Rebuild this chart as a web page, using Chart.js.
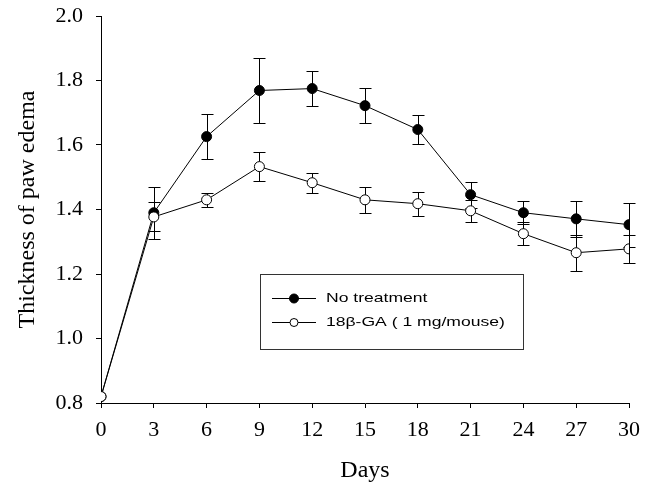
<!DOCTYPE html>
<html>
  <head>
    <meta charset="UTF-8" />
    <title>Thickness of paw edema</title>
    <style>
      body {
        margin: 0;
        background: #fff;
      }
      #wrap {
        width: 659px;
        height: 489px;
      }
    </style>
  </head>
  <body>
    <div id="wrap"><canvas id="chart" width="659" height="489"></canvas></div>

    <script src="https://cdn.jsdelivr.net/npm/chart.js"></script>
    <script>
      // values
      const days = [0, 3, 6, 9, 12, 15, 18, 21, 24, 27, 30];
      const noTreatment = [0.82, 1.39, 1.626, 1.769, 1.775, 1.722, 1.648, 1.446, 1.39, 1.371, 1.353];
      const noTreatmentErr = [0, 0.08, 0.07, 0.1, 0.053, 0.055, 0.046, 0.04, 0.035, 0.056, 0.068];
      const ga = [0.82, 1.377, 1.43, 1.533, 1.483, 1.43, 1.418, 1.396, 1.325, 1.266, 1.278];
      const gaErr = [0, 0.045, 0.022, 0.046, 0.031, 0.04, 0.037, 0.035, 0.035, 0.056, 0.043];
      const yTicks = [0.8, 1.0, 1.2, 1.4, 1.6, 1.8, 2.0];

      const serif = "'Liberation Serif', 'Times New Roman', serif";
      const sans = "'Liberation Sans', Arial, sans-serif";

      const toPoints = (vals) => days.map((d, i) => ({ x: d, y: vals[i] }));

      // vertical error bars with caps
      const errorBars = {
        id: "errorBars",
        beforeDatasetsDraw(chart) {
          const { ctx, scales } = chart;
          ctx.save();
          ctx.strokeStyle = "#000";
          ctx.lineWidth = 1;
          chart.data.datasets.forEach((ds) => {
            ds.data.forEach((p, i) => {
              const e = ds.errors[i];
              if (!e) return;
              const x = Math.round(scales.x.getPixelForValue(p.x)) + 0.5;
              const y1 = Math.round(scales.y.getPixelForValue(p.y + e)) + 0.5;
              const y2 = Math.round(scales.y.getPixelForValue(p.y - e)) + 0.5;
              ctx.beginPath();
              ctx.moveTo(x, y1);
              ctx.lineTo(x, y2);
              ctx.moveTo(x - 6, y1);
              ctx.lineTo(x + 6, y1);
              ctx.moveTo(x - 6, y2);
              ctx.lineTo(x + 6, y2);
              ctx.stroke();
            });
          });
          ctx.restore();
        },
      };

      // boxed legend inside the plot
      const boxLegend = {
        id: "boxLegend",
        afterDraw(chart) {
          const { ctx } = chart;
          const bx = 260, by = 274, bw = 263, bh = 75;
          ctx.save();
          ctx.strokeStyle = "#333";
          ctx.lineWidth = 1;
          ctx.strokeRect(bx + 0.5, by + 0.5, bw, bh);
          ctx.textBaseline = "middle";
          chart.data.datasets.forEach((ds, i) => {
            const y = by + 24.5 + i * 24;
            ctx.strokeStyle = "#000";
            ctx.beginPath();
            ctx.moveTo(272, y);
            ctx.lineTo(316, y);
            ctx.stroke();
            ctx.beginPath();
            ctx.arc(294, y, i === 0 ? 4.5 : 4, 0, Math.PI * 2);
            ctx.fillStyle = ds.pointBackgroundColor;
            ctx.fill();
            ctx.stroke();
            // scanned figure text is a bit wide, so stretch it sideways
            ctx.save();
            ctx.translate(326, y);
            ctx.scale(1.3, 1);
            ctx.font = "13.5px " + sans;
            ctx.fillStyle = "#000";
            ctx.fillText(ds.label, 0, 0);
            ctx.restore();
          });
          ctx.restore();
        },
      };

      const ctx = document.getElementById("chart").getContext("2d");

      const config = {
        type: "line",
        data: {
          datasets: [
            {
              label: "No treatment",
              data: toPoints(noTreatment),
              errors: noTreatmentErr,
              order: 1,
              borderColor: "#000",
              borderWidth: 1,
              pointRadius: 5,
              pointBackgroundColor: "#000",
              pointBorderColor: "#000",
              pointBorderWidth: 1,
              tension: 0,
            },
            {
              label: "18\u03b2-GA ( 1 mg/mouse)",
              data: toPoints(ga),
              errors: gaErr,
              order: 0,
              borderColor: "#000",
              borderWidth: 1,
              pointRadius: 5,
              pointBackgroundColor: "#fff",
              pointBorderColor: "#000",
              pointBorderWidth: 1,
              tension: 0,
            },
          ],
        },
        options: {
          responsive: false,
          animation: false,
          layout: { padding: { top: 16, right: 30, left: 0, bottom: 0 } },
          plugins: {
            legend: { display: false },
            tooltip: { enabled: false },
          },
          scales: {
            x: {
              type: "linear",
              min: 0,
              max: 30,
              afterFit: (s) => {
                s.height = 86;
                s.paddingLeft = 0;
                s.paddingRight = 0;
              },
              ticks: {
                stepSize: 3,
                color: "#000",
                font: { family: serif, size: 22 },
                padding: 9,
                maxRotation: 0,
              },
              grid: {
                display: true,
                drawOnChartArea: false,
                drawTicks: true,
                tickLength: 5,
                color: "#000",
              },
              border: { color: "#000", width: 1 },
              title: {
                display: true,
                text: "Days",
                color: "#000",
                font: { family: serif, size: 24 },
                padding: { top: 0, bottom: 4 },
              },
            },
            y: {
              min: 0.8,
              max: 2.0,
              afterFit: (s) => {
                s.width = 101;
                s.paddingTop = 0;
                s.paddingBottom = 0;
              },
              afterBuildTicks: (s) => { s.ticks = yTicks.map((v) => ({ value: v })); },
              ticks: {
                color: "#000",
                font: { family: serif, size: 22 },
                padding: 13,
                callback: (v) => Number(v).toFixed(1),
              },
              grid: {
                display: true,
                drawOnChartArea: false,
                drawTicks: true,
                tickLength: 5,
                color: "#000",
              },
              border: { color: "#000", width: 1 },
              title: {
                display: true,
                text: "Thickness of paw edema",
                color: "#000",
                font: { family: serif, size: 24 },
                padding: { top: 13, bottom: 0 },
              },
            },
          },
        },
        plugins: [errorBars, boxLegend],
      };

      new Chart(ctx, config);
    </script>
  </body>
</html>
